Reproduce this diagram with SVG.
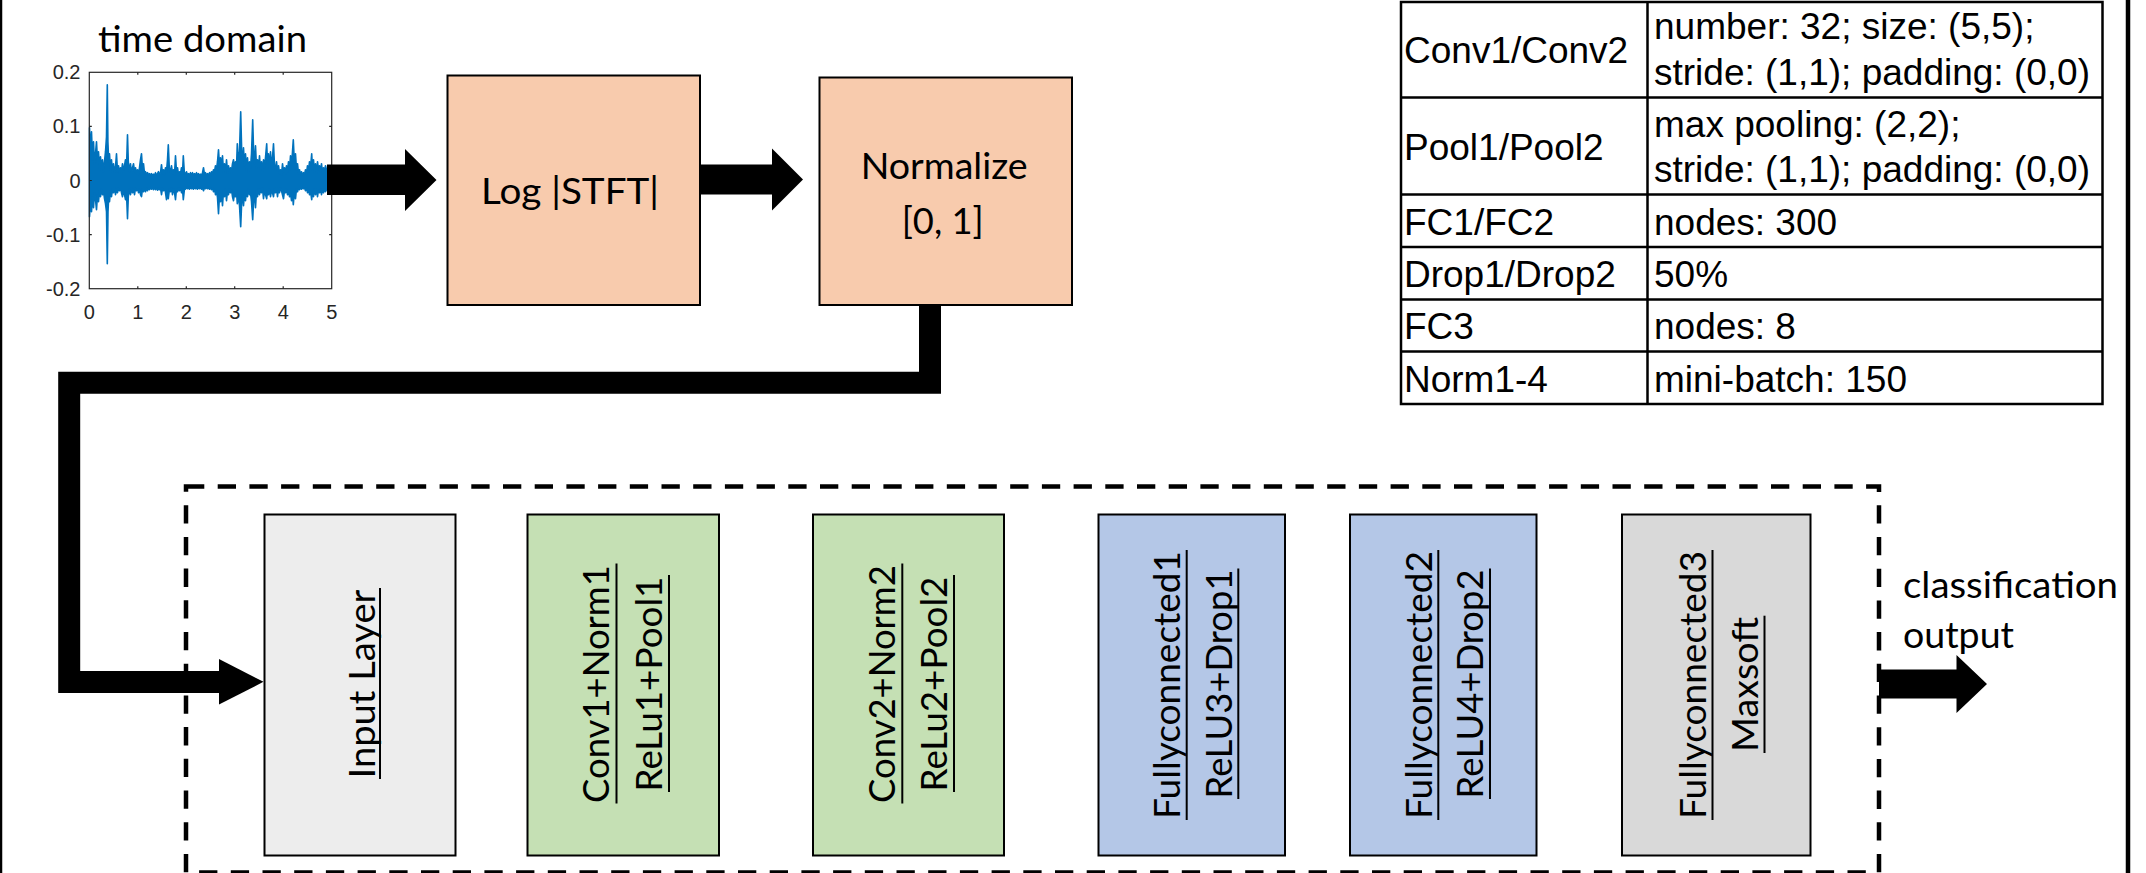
<svg xmlns="http://www.w3.org/2000/svg" width="2146" height="873" viewBox="0 0 2146 873">
<style>
.box{stroke:#000;stroke-width:2}
.lbl{font-family:Lato,"Liberation Sans",sans-serif;font-size:36px;fill:#000}
.tbl{font-family:"Liberation Sans",Arial,sans-serif;font-size:37px;fill:#000}
.tick{font-family:"Liberation Sans",Arial,sans-serif;font-size:20px;fill:#262626}
.ul{stroke:#000;stroke-width:2}
.tline{stroke:#000;stroke-width:2.5;fill:none}
</style>
<rect width="2146" height="873" fill="#fff"/>
<line x1="1" y1="0" x2="1" y2="873" stroke="#000" stroke-width="2.5"/>
<line x1="2128" y1="0" x2="2128" y2="873" stroke="#000" stroke-width="4.5"/>

<g id="plot">
<text class="lbl" x="202.5" y="51.7" text-anchor="middle" textLength="209" lengthAdjust="spacingAndGlyphs">time domain</text>
<polygon fill="#0072BD" stroke="#0072BD" stroke-width="1.6" stroke-linejoin="round" points="89.5,127.7 90.5,151.7 91.5,131.7 92.5,159.7 93.5,141.7 94.5,163.7 95.5,153.7 96.5,141.7 97.5,161.7 98.5,151.7 99.5,167.7 100.5,156.7 101.5,169.7 102.5,159.7 103.5,171.7 104.5,161.7 105.5,151.7 106.5,136.7 107.3,84.7 107.9,141.7 108.7,161.7 109.5,153.7 110.5,169.7 111.5,159.7 112.5,171.7 113.5,163.7 114.5,173.7 115.5,166.7 116.5,153.7 117.5,171.7 118.5,165.7 119.5,173.7 120.5,167.7 121.5,171.7 122.5,163.7 123.5,169.7 124.5,165.7 125.5,159.7 126.5,167.7 127.5,134.7 128.3,161.7 129.5,171.7 130.5,163.7 131.5,173.7 132.5,167.7 133.5,163.7 134.5,171.7 135.5,167.7 136.5,173.7 137.5,169.7 138.5,174.7 139.5,167.7 140.5,159.7 141.5,153.7 142.5,169.7 143.5,163.7 144.5,173.7 145.5,171.7 146.5,174.7 147.5,172.7 148.5,174.7 149.5,173.7 150.5,175.2 151.5,173.7 152.5,175.2 153.5,174.2 154.5,175.2 155.5,172.7 156.5,175.2 157.5,173.7 158.5,171.7 159.5,174.7 160.5,172.7 161.5,164.7 162.5,173.7 163.5,169.7 164.5,174.7 165.5,167.7 166.5,171.7 167.5,159.7 168.3,144.7 169.3,167.7 170.5,171.7 171.5,165.7 172.5,173.7 173.5,169.7 174.5,174.7 175.5,155.7 176.5,171.7 177.5,167.7 178.5,174.7 179.5,171.7 180.5,173.7 181.5,167.7 182.5,173.7 183.3,155.7 184.3,171.7 185.5,174.7 186.5,171.7 187.5,175.2 188.5,173.7 189.5,175.2 190.5,172.7 191.5,175.2 192.5,172.7 193.5,175.2 194.5,173.7 195.5,175.2 196.5,172.7 197.5,175.2 198.5,173.7 199.5,175.2 200.5,174.2 201.5,175.2 202.5,172.7 203.5,167.7 204.5,174.7 205.5,172.7 206.5,175.2 207.5,173.7 208.5,175.2 209.5,172.7 210.5,174.7 211.5,171.7 212.5,173.7 213.5,169.7 214.5,171.7 215.5,165.7 216.5,169.7 217.5,161.7 218.5,149.7 219.5,165.7 220.5,157.7 221.5,167.7 222.5,155.7 223.5,171.7 224.5,163.7 225.5,173.7 226.5,159.7 227.5,171.7 228.5,165.7 229.5,173.7 230.5,167.7 231.5,171.7 232.5,163.7 233.5,159.7 234.5,169.7 235.5,161.7 236.5,167.7 237.3,143.7 238.3,161.7 239.5,151.7 240.7,111.7 241.7,151.7 242.5,161.7 243.5,147.7 244.5,165.7 245.5,153.7 246.5,169.7 247.5,157.7 248.5,171.7 249.5,161.7 250.5,167.7 251.5,153.7 252.7,119.7 253.7,155.7 254.5,163.7 255.5,145.7 256.5,167.7 257.5,159.7 258.5,169.7 259.5,155.7 260.5,169.7 261.5,161.7 262.5,171.7 263.5,159.7 264.5,167.7 265.5,157.7 266.7,143.7 267.5,163.7 268.5,153.7 269.5,167.7 270.5,151.7 271.5,165.7 272.5,157.7 273.5,143.7 274.5,165.7 275.5,169.7 276.5,161.7 277.5,171.7 278.5,165.7 279.5,173.7 280.5,169.7 281.5,174.7 282.5,163.7 283.5,171.7 284.5,167.7 285.5,173.7 286.5,165.7 287.5,171.7 288.5,161.7 289.5,169.7 290.5,155.7 291.5,165.7 292.5,151.7 293.3,139.7 294.3,161.7 295.5,153.7 296.5,169.7 297.5,163.7 298.5,173.7 299.5,169.7 300.5,174.7 301.5,171.7 302.5,175.2 303.5,172.7 304.5,174.7 305.5,169.7 306.5,173.7 307.5,165.7 308.5,171.7 309.5,161.7 310.5,167.7 311.7,153.7 312.5,169.7 313.5,159.7 314.5,171.7 315.5,163.7 316.5,173.7 317.5,161.7 318.5,169.7 319.5,165.7 320.5,171.7 321.5,163.7 322.5,173.7 323.5,167.7 324.5,171.7 325.5,165.7 326.5,169.7 326.5,189.7 325.5,191.7 324.5,188.7 323.5,192.7 322.5,188.7 321.5,194.7 320.5,188.7 319.5,192.7 318.5,189.7 317.5,196.7 316.5,188.7 315.5,194.7 314.5,188.7 313.5,196.7 312.5,190.7 311.7,199.7 310.5,190.7 309.5,194.7 308.5,188.7 307.5,192.7 306.5,188.2 305.5,190.7 304.5,187.7 303.5,188.7 302.5,187.7 301.5,189.2 300.5,187.7 299.5,189.7 298.5,187.7 297.5,191.7 296.5,188.7 295.5,198.7 294.3,192.7 293.3,204.7 292.5,194.7 291.5,200.7 290.5,192.7 289.5,196.7 288.5,190.7 287.5,194.7 286.5,188.7 285.5,192.7 284.5,190.7 283.5,198.7 282.5,194.7 281.5,190.7 280.5,188.2 279.5,192.7 278.5,188.7 277.5,196.7 276.5,188.2 275.5,192.7 274.5,188.7 273.5,196.7 272.5,192.7 271.5,190.7 270.5,196.7 269.5,188.7 268.5,194.7 267.5,190.7 266.7,198.7 265.5,194.7 264.5,190.7 263.5,198.7 262.5,188.2 261.5,192.7 260.5,188.7 259.5,194.7 258.5,188.7 257.5,196.7 256.5,190.7 255.5,207.7 254.5,192.7 253.7,198.7 252.7,219.7 251.5,201.7 250.5,192.7 249.5,194.7 248.5,188.7 247.5,196.7 246.5,190.7 245.5,200.7 244.5,192.7 243.5,205.7 242.5,194.7 241.7,201.7 240.7,226.7 239.5,205.7 238.3,194.7 237.3,203.7 236.5,190.7 235.5,196.7 234.5,192.7 233.5,200.7 232.5,196.7 231.5,189.7 230.5,192.7 229.5,188.7 228.5,194.7 227.5,190.7 226.5,200.7 225.5,188.7 224.5,196.7 223.5,190.7 222.5,205.7 221.5,192.7 220.5,201.7 219.5,194.7 218.5,213.7 217.5,197.7 216.5,190.7 215.5,194.7 214.5,188.7 213.5,191.7 212.5,187.7 211.5,189.7 210.5,187.7 209.5,189.2 208.5,187.7 207.5,188.7 206.5,187.2 205.5,188.7 204.5,187.7 203.5,190.7 202.5,187.7 201.5,189.2 200.5,187.2 199.5,188.7 198.5,187.2 197.5,189.2 196.5,187.7 195.5,188.7 194.5,187.2 193.5,189.2 192.5,187.7 191.5,188.7 190.5,187.2 189.5,189.2 188.5,187.7 187.5,188.7 186.5,187.2 185.5,189.2 184.5,188.7 183.3,199.7 182.5,188.7 181.5,192.7 180.5,188.2 179.5,190.7 178.5,187.7 177.5,191.7 176.5,188.7 175.5,199.7 174.5,192.7 173.5,188.7 172.5,194.7 171.5,187.7 170.5,191.7 169.5,188.7 168.3,198.7 167.5,190.7 166.5,199.7 165.5,192.7 164.5,187.7 163.5,190.7 162.5,188.2 161.5,194.7 160.5,188.2 159.5,189.7 158.5,188.7 157.5,190.2 156.5,187.7 155.5,189.7 154.5,187.7 153.5,189.7 152.5,187.7 151.5,189.2 150.5,187.7 149.5,189.7 148.5,187.7 147.5,190.7 146.5,188.2 145.5,191.7 144.5,188.2 143.5,191.7 142.5,188.7 141.5,196.7 140.5,194.7 139.5,188.7 138.5,192.7 137.5,187.7 136.5,190.7 135.5,188.2 134.5,194.7 133.5,188.7 132.5,192.7 131.5,188.2 130.5,194.7 129.5,188.7 128.3,196.7 127.5,218.7 126.5,192.7 125.5,199.7 124.5,194.7 123.5,190.7 122.5,196.7 121.5,192.7 120.5,187.7 119.5,190.7 118.5,188.2 117.5,192.7 116.5,188.7 115.5,194.7 114.5,188.2 113.5,192.7 112.5,188.7 111.5,196.7 110.5,190.7 109.5,201.7 108.7,196.7 108,211.7 107.3,263.7 106.5,211.7 105.5,203.7 104.5,198.7 103.5,190.7 102.5,194.7 101.5,188.7 100.5,196.7 99.5,190.7 98.5,201.7 97.5,194.7 96.5,209.7 95.5,199.7 94.5,192.7 93.5,207.7 92.5,196.7 91.5,211.7 90.5,201.7 89.5,216.7"/>
<rect x="89.3" y="72.3" width="242.4" height="216.4" fill="none" stroke="#262626" stroke-width="1.2"/>
<path d="M137.8,288.7v-2.5M186.3,288.7v-2.5M234.7,288.7v-2.5M283.2,288.7v-2.5M137.8,72.3v2.5M186.3,72.3v2.5M234.7,72.3v2.5M283.2,72.3v2.5M89.3,126.4h2.5M89.3,180.5h2.5M89.3,234.6h2.5M331.7,126.4h-2.5M331.7,180.5h-2.5M331.7,234.6h-2.5" stroke="#262626" stroke-width="1.2" fill="none"/>
<g class="tick" text-anchor="end">
<text x="80.5" y="79.3">0.2</text>
<text x="80.5" y="133.4">0.1</text>
<text x="80.5" y="187.5">0</text>
<text x="80.5" y="241.6">-0.1</text>
<text x="80.5" y="295.7">-0.2</text>
</g>
<g class="tick" text-anchor="middle">
<text x="89.3" y="318.5">0</text>
<text x="137.8" y="318.5">1</text>
<text x="186.3" y="318.5">2</text>
<text x="234.7" y="318.5">3</text>
<text x="283.2" y="318.5">4</text>
<text x="331.7" y="318.5">5</text>
</g>
</g>

<g id="logstft">
<rect class="box" x="447.5" y="75.5" width="252.5" height="229.5" fill="#F8CBAD"/>
<text class="lbl" x="570" y="204" text-anchor="middle" textLength="178" lengthAdjust="spacingAndGlyphs">Log |STFT|</text>
</g>

<g id="normalize">
<rect class="box" x="819.5" y="77.5" width="252.5" height="227.5" fill="#F8CBAD"/>
<text class="lbl" x="944.2" y="179.3" text-anchor="middle" textLength="167" lengthAdjust="spacingAndGlyphs">Normalize</text>
<text class="lbl" x="942.7" y="234" text-anchor="middle" textLength="82" lengthAdjust="spacingAndGlyphs">[0, 1]</text>
</g>

<g id="params">
<path class="tline" d="M1401,2H2102.5V404H1401ZM1647.5,2V404M1401,97.5H2102.5M1401,194.5H2102.5M1401,247H2102.5M1401,299.5H2102.5M1401,351.5H2102.5"/>
<text class="tbl" x="1404" y="63.3">Conv1/Conv2</text>
<text class="tbl" x="1654" y="39.3">number: 32; size: (5,5);</text>
<text class="tbl" x="1654" y="85">stride: (1,1); padding: (0,0)</text>
<text class="tbl" x="1404" y="160">Pool1/Pool2</text>
<text class="tbl" x="1654" y="136.7">max pooling: (2,2);</text>
<text class="tbl" x="1654" y="181.7">stride: (1,1); padding: (0,0)</text>
<text class="tbl" x="1404" y="235">FC1/FC2</text>
<text class="tbl" x="1654" y="235">nodes: 300</text>
<text class="tbl" x="1404" y="286.7">Drop1/Drop2</text>
<text class="tbl" x="1654" y="286.7">50%</text>
<text class="tbl" x="1404" y="339.3">FC3</text>
<text class="tbl" x="1654" y="339.3">nodes: 8</text>
<text class="tbl" x="1404" y="391.7">Norm1-4</text>
<text class="tbl" x="1654" y="391.7">mini-batch: 150</text>
</g>

<g id="cnn">
<rect x="186" y="486.5" width="1693" height="386" fill="none" stroke="#000" stroke-width="4.5" stroke-dasharray="18.3 13.4"/>
</g>

<g id="input-layer">
<rect class="box" x="264.5" y="514.5" width="191" height="341" fill="#EDEDED"/>
<text class="lbl" transform="translate(374.5,684) rotate(-90)" text-anchor="middle" textLength="189" lengthAdjust="spacingAndGlyphs">Input Layer</text>
<line class="ul" x1="380" y1="588" x2="380" y2="779"/>
</g>

<g id="conv1">
<rect class="box" x="527.5" y="514.5" width="191.5" height="341" fill="#C5E0B4"/>
<text class="lbl" transform="translate(608.5,684) rotate(-90)" text-anchor="middle" textLength="238" lengthAdjust="spacingAndGlyphs">Conv1+Norm1</text>
<text class="lbl" transform="translate(661.5,684) rotate(-90)" text-anchor="middle" textLength="215" lengthAdjust="spacingAndGlyphs">ReLu1+Pool1</text>
<line class="ul" x1="616.5" y1="563.5" x2="616.5" y2="803.5"/>
<line class="ul" x1="669" y1="575" x2="669" y2="792"/>
</g>

<g id="conv2">
<rect class="box" x="813" y="514.5" width="191" height="341" fill="#C5E0B4"/>
<text class="lbl" transform="translate(894.5,684) rotate(-90)" text-anchor="middle" textLength="238" lengthAdjust="spacingAndGlyphs">Conv2+Norm2</text>
<text class="lbl" transform="translate(947,684) rotate(-90)" text-anchor="middle" textLength="215" lengthAdjust="spacingAndGlyphs">ReLu2+Pool2</text>
<line class="ul" x1="902.3" y1="563.5" x2="902.3" y2="803.5"/>
<line class="ul" x1="954" y1="575" x2="954" y2="792"/>
</g>

<g id="fc1">
<rect class="box" x="1098.5" y="514.5" width="186.5" height="341" fill="#B4C7E7"/>
<text class="lbl" transform="translate(1180,685) rotate(-90)" text-anchor="middle" textLength="268" lengthAdjust="spacingAndGlyphs">Fullyconnected1</text>
<text class="lbl" transform="translate(1231.7,684) rotate(-90)" text-anchor="middle" textLength="229" lengthAdjust="spacingAndGlyphs">ReLU3+Drop1</text>
<line class="ul" x1="1186.7" y1="550" x2="1186.7" y2="820"/>
<line class="ul" x1="1238.3" y1="568.5" x2="1238.3" y2="799"/>
</g>

<g id="fc2">
<rect class="box" x="1350" y="514.5" width="186.5" height="341" fill="#B4C7E7"/>
<text class="lbl" transform="translate(1431.7,685) rotate(-90)" text-anchor="middle" textLength="268" lengthAdjust="spacingAndGlyphs">Fullyconnected2</text>
<text class="lbl" transform="translate(1483.3,684) rotate(-90)" text-anchor="middle" textLength="229" lengthAdjust="spacingAndGlyphs">ReLU4+Drop2</text>
<line class="ul" x1="1438.3" y1="550" x2="1438.3" y2="820"/>
<line class="ul" x1="1490" y1="568.5" x2="1490" y2="799"/>
</g>

<g id="fc3">
<rect class="box" x="1622" y="514.5" width="188.5" height="341" fill="#D9D9D9"/>
<text class="lbl" transform="translate(1706,685) rotate(-90)" text-anchor="middle" textLength="268" lengthAdjust="spacingAndGlyphs">Fullyconnected3</text>
<text class="lbl" transform="translate(1758,684.4) rotate(-90)" text-anchor="middle" textLength="135" lengthAdjust="spacingAndGlyphs">Maxsoft</text>
<line class="ul" x1="1712.5" y1="550" x2="1712.5" y2="820"/>
<line class="ul" x1="1764.5" y1="615.7" x2="1764.5" y2="753"/>
</g>

<g id="output-label">
<text class="lbl" x="1903" y="598.3" textLength="215" lengthAdjust="spacingAndGlyphs">classification</text>
<text class="lbl" x="1903" y="648.3" textLength="111" lengthAdjust="spacingAndGlyphs">output</text>
</g>

<g id="connectors" fill="#000">
<polygon points="327,164.5 405,164.5 405,149 436.5,180 405,211 405,195 327,195"/>
<polygon points="700,164.5 772,164.5 772,148.5 803,179.5 772,210.5 772,194.5 700,194.5"/>
<path d="M930,305V382.7H69.2V682H219.5" fill="none" stroke="#000" stroke-width="22" stroke-linejoin="miter"/>
<polygon points="219,659 263.5,681.8 219,704.5"/>
<polygon points="1879,669.5 1956.5,669.5 1956.5,655 1987,684 1956.5,713 1956.5,698.5 1879,698.5"/>
</g>
</svg>
